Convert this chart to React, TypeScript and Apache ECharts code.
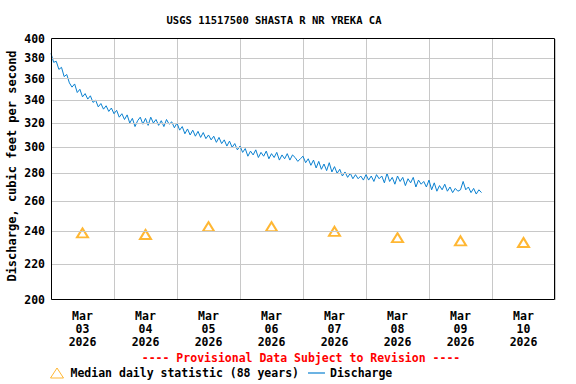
import React, { useEffect, useRef } from 'react';
import * as echarts from 'echarts';

const chartTitle = 'USGS 11517500 SHASTA R NR YREKA CA';
const yAxisTitle = 'Discharge, cubic feet per second';
const provisionalNote = '---- Provisional Data Subject to Revision ----';
const yTicks = [200, 220, 240, 260, 280, 300, 320, 340, 360, 380, 400];
const dayLabels = ['03', '04', '05', '06', '07', '08', '09', '10'];
const monthLabel = 'Mar';
const yearLabel = '2026';
const labelHours = [12, 36, 60, 84, 108, 132, 156, 180];
const medianValues = [239, 238, 243, 243, 240, 236, 234, 233];

// hourly discharge readings, cfs, starting Mar 03 00:00
const mar03 = [385, 376, 377, 369, 371, 362, 364, 356, 352, 355, 347, 350, 343, 346, 341, 344, 338, 340, 334, 337, 332, 335, 330, 333];
const mar04 = [328, 331, 325, 328, 323, 327, 320, 324, 317, 322, 325, 319, 324, 318, 325, 320, 323, 318, 322, 317, 323, 319, 321, 316];
const mar05 = [320, 314, 317, 311, 315, 310, 314, 309, 313, 308, 312, 307, 310, 306, 309, 304, 308, 303, 306, 301, 305, 300, 303, 298];
const mar06 = [301, 296, 299, 293, 297, 294, 298, 292, 296, 293, 297, 291, 295, 292, 296, 290, 294, 291, 295, 290, 294, 292, 289, 291];
const mar07 = [293, 288, 291, 286, 290, 284, 289, 283, 287, 282, 288, 281, 285, 280, 283, 278, 281, 277, 280, 276, 279, 276, 278, 275];
const mar08 = [279, 275, 278, 274, 279, 276, 278, 273, 280, 274, 277, 272, 278, 274, 277, 271, 276, 273, 277, 270, 275, 272, 274, 270];
const mar09 = [275, 268, 273, 267, 271, 268, 272, 267, 270, 266, 269, 267, 268, 274, 268, 270, 266, 269, 265, 268, 266];

const FONT = '"DejaVu Sans Mono", "Liberation Mono", monospace';
const BLUE = '#0a80d0';
const ORANGE = '#ffa500';

export default function App() {
  const ref = useRef<HTMLDivElement>(null);
  useEffect(() => {
    if (!ref.current) return;
    const chart = echarts.init(ref.current, null, { renderer: 'svg' });
    const days = [mar03, mar04, mar05, mar06, mar07, mar08, mar09];
    const discharge: number[][] = [];
    days.forEach((d, di) => d.forEach((v, h) => discharge.push([di * 24 + h, v])));
    const medians = labelHours.map((h, i) => [h, medianValues[i]]);

    chart.setOption({
      animation: false,
      backgroundColor: '#fff',
      grid: { left: 51, right: 21, top: 39, bottom: 84, containLabel: false },
      xAxis: {
        type: 'value',
        min: 0,
        max: 192,
        interval: 24,
        axisLine: { show: false },
        axisTick: { show: false },
        splitLine: { show: true, lineStyle: { color: '#c8c8c8', width: 1 } },
        axisLabel: {
          customValues: labelHours,
          margin: 9,
          fontFamily: FONT,
          fontWeight: 'bold',
          fontSize: 11.5,
          lineHeight: 13,
          color: '#000',
          formatter: (v: number) => {
            const i = Math.round((v - 12) / 24);
            return `${monthLabel}\n${dayLabels[i] ?? ''}\n${yearLabel}`;
          },
        },
      },
      yAxis: {
        type: 'log',
        logBase: 10,
        min: 200,
        max: 400,
        axisLine: { show: false },
        axisTick: { show: false },
        axisLabel: { show: false },
        splitLine: { show: false },
      },
      legend: {
        left: 50,
        top: 367,
        padding: 0,
        itemGap: 9,
        itemWidth: 17,
        itemHeight: 10,
        textStyle: { fontFamily: FONT, fontWeight: 'bold', fontSize: 11.5, color: '#000' },
        data: [
          {
            name: 'Median daily statistic (88 years)',
            icon: 'path://M6.5,0L13,10L0,10Z',
            itemStyle: { color: '#fff', borderColor: ORANGE, borderWidth: 1 },
          },
          {
            name: 'Discharge',
            icon: 'path://M0,0H17V1.2H0Z',
            itemStyle: { color: BLUE, borderWidth: 0 },
          },
        ],
      },
      series: [
        {
          name: 'grid',
          type: 'line',
          data: [],
          z: 1,
          silent: true,
          markLine: {
            silent: true,
            symbol: 'none',
            animation: false,
            label: {
              position: 'start',
              distance: 6,
              color: '#000',
              fontFamily: FONT,
              fontWeight: 'bold',
              fontSize: 11.5,
              formatter: (p: any) => String(p.value),
            },
            data: yTicks.map((v) => ({
              yAxis: v,
              lineStyle: {
                color: v === 200 || v === 400 ? 'rgba(0,0,0,0)' : '#c8c8c8',
                width: 1,
                type: 'solid',
              },
            })),
          },
        },
        {
          name: 'Median daily statistic (88 years)',
          type: 'scatter',
          symbol: 'emptyTriangle',
          symbolSize: [11, 9],
          itemStyle: { color: ORANGE, borderWidth: 1 },
          data: medians,
          z: 4,
        },
        {
          name: 'Discharge',
          type: 'line',
          symbol: 'none',
          showSymbol: false,
          lineStyle: { color: BLUE, width: 1 },
          itemStyle: { color: BLUE },
          data: discharge,
          z: 3,
        },
      ],
      graphic: [
        {
          type: 'text',
          x: 274,
          y: 20,
          style: {
            text: chartTitle,
            textAlign: 'center',
            textVerticalAlign: 'middle',
            font: `bold 10.5px ${FONT}`,
            fill: '#000',
          },
        },
        {
          type: 'text',
          x: 12,
          y: 166,
          rotation: Math.PI / 2,
          style: {
            text: yAxisTitle,
            textAlign: 'center',
            textVerticalAlign: 'middle',
            font: `bold 12px ${FONT}`,
            fill: '#000',
          },
        },
        {
          type: 'text',
          x: 301,
          y: 358,
          style: {
            text: provisionalNote,
            textAlign: 'center',
            textVerticalAlign: 'middle',
            font: `bold 11.5px ${FONT}`,
            fill: '#ff0000',
          },
        },
        {
          type: 'rect',
          z: 100,
          silent: true,
          shape: { x: 51.5, y: 38.5, width: 503, height: 261 },
          style: { fill: 'none', stroke: '#000', lineWidth: 1 },
        },
      ],
    });
    return () => chart.dispose();
  }, []);
  return <div ref={ref} style={{ position: 'absolute', left: 0, top: 0, width: 576, height: 384 }} />;
}
